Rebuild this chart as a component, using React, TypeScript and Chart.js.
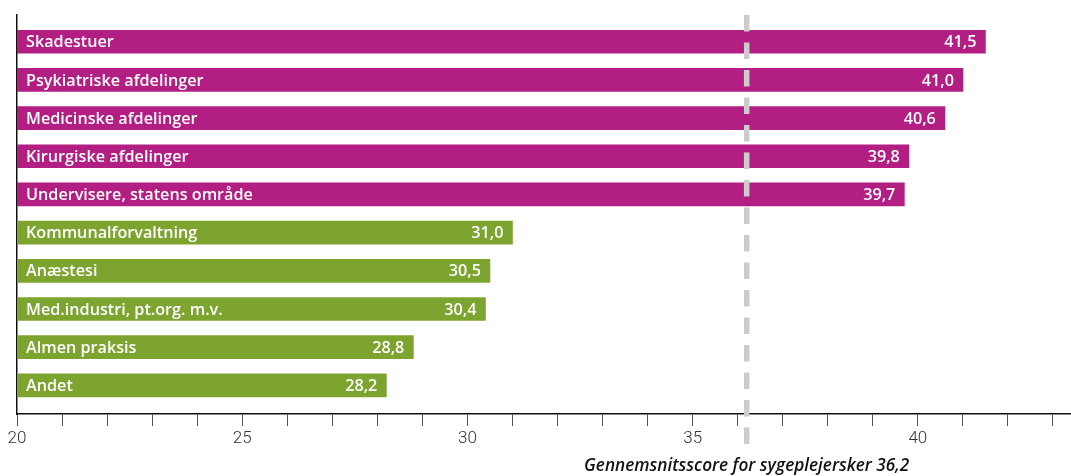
import React, { useEffect, useRef } from 'react';
import { Chart, registerables } from 'chart.js';

Chart.register(...registerables);

const categories: string[] = [
  'Skadestuer',
  'Psykiatriske afdelinger',
  'Medicinske afdelinger',
  'Kirurgiske afdelinger',
  'Undervisere, statens område',
  'Kommunalforvaltning',
  'Anæstesi',
  'Med.industri, pt.org. m.v.',
  'Almen praksis',
  'Andet',
];
const scores: number[] = [41.5, 41.0, 40.6, 39.8, 39.7, 31.0, 30.5, 30.4, 28.8, 28.2];
const groups: string[] = ['high', 'high', 'high', 'high', 'high', 'low', 'low', 'low', 'low', 'low'];
const averageScore = 36.2;
const averageLabel = 'Gennemsnitsscore for sygeplejersker 36,2';
const axisMin = 20;
const axisMax = 43.4;
const majorTicks: number[] = [20, 25, 30, 35, 40];

const MAGENTA = '#b31e82';
const GREEN = '#7ca42f';

const fmt = (v: number) => v.toFixed(1).replace('.', ',');

const overlayPlugin = {
  id: 'overlay',
  afterDatasetsDraw(chart: any) {
    const ctx = chart.ctx;
    const meta = chart.getDatasetMeta(0);
    const xScale = chart.scales.x;
    const area = chart.chartArea;
    ctx.save();
    ctx.font = '600 16.2px "Open Sans"';
    ctx.fillStyle = '#ffffff';
    ctx.textBaseline = 'middle';
    meta.data.forEach((el: any, i: number) => {
      const start = Math.max(el.base, area.left);
      ctx.textAlign = 'left';
      ctx.fillText(categories[i], start + 9, el.y + 1);
      ctx.textAlign = 'right';
      ctx.fillText(fmt(scores[i]), el.x - 9, el.y + 1);
    });
    const ax = xScale.getPixelForValue(averageScore);
    ctx.strokeStyle = '#cccccc';
    ctx.lineWidth = 5.5;
    ctx.setLineDash([16.5, 11]);
    ctx.beginPath();
    ctx.moveTo(ax, area.top);
    ctx.lineTo(ax, area.bottom + 30);
    ctx.stroke();
    ctx.setLineDash([]);
    ctx.font = 'italic 600 17.2px "Open Sans"';
    ctx.fillStyle = '#111111';
    ctx.textAlign = 'center';
    ctx.fillText(averageLabel, ax, area.bottom + 52);
    ctx.restore();
  },
};

export default function App() {
  const canvasRef = useRef<HTMLCanvasElement | null>(null);

  useEffect(() => {
    if (!canvasRef.current) return;
    const chart = new Chart(canvasRef.current, {
      type: 'bar',
      data: {
        labels: categories,
        datasets: [
          {
            data: scores.map((v, i) => ({ x: v, y: i })),
            backgroundColor: groups.map((g) => (g === 'high' ? MAGENTA : GREEN)),
            borderWidth: 0,
            barThickness: 23,
          } as any,
        ],
      },
      options: {
        indexAxis: 'y',
        animation: false,
        responsive: true,
        maintainAspectRatio: false,
        layout: { padding: { top: 15, right: 0, bottom: 0, left: 0 } },
        plugins: {
          legend: { display: false },
          tooltip: { enabled: true },
        },
        scales: {
          x: {
            type: 'linear',
            position: 'bottom',
            min: axisMin,
            max: axisMax,
            afterFit: (s: any) => {
              s.height = 62;
            },
            ticks: {
              stepSize: 1,
              includeBounds: false,
              autoSkip: false,
              maxRotation: 0,
              padding: 3,
              color: '#333333',
              font: { family: 'Roboto', size: 17, weight: '300' },
              callback: (v: any) => (majorTicks.includes(Number(v)) ? String(v) : ''),
            },
            grid: {
              drawOnChartArea: false,
              drawTicks: true,
              tickLength: 12,
              color: '#555555',
              lineWidth: 1,
            },
            border: { display: true, color: '#111111', width: 1.5 },
          },
          y: {
            type: 'linear',
            reverse: true,
            offset: false,
            min: -0.7,
            max: 9.75,
            afterFit: (s: any) => {
              s.width = 17;
            },
            ticks: { display: false, stepSize: 1, includeBounds: false },
            grid: { display: false, offset: false },
            border: { display: true, color: '#111111', width: 1.5 },
          },
        },
      } as any,
      plugins: [overlayPlugin],
    });
    return () => chart.destroy();
  }, []);

  return (
    <div style={{ position: 'absolute', left: 0, top: 0, width: 1071, height: 476 }}>
      <canvas ref={canvasRef} />
    </div>
  );
}
